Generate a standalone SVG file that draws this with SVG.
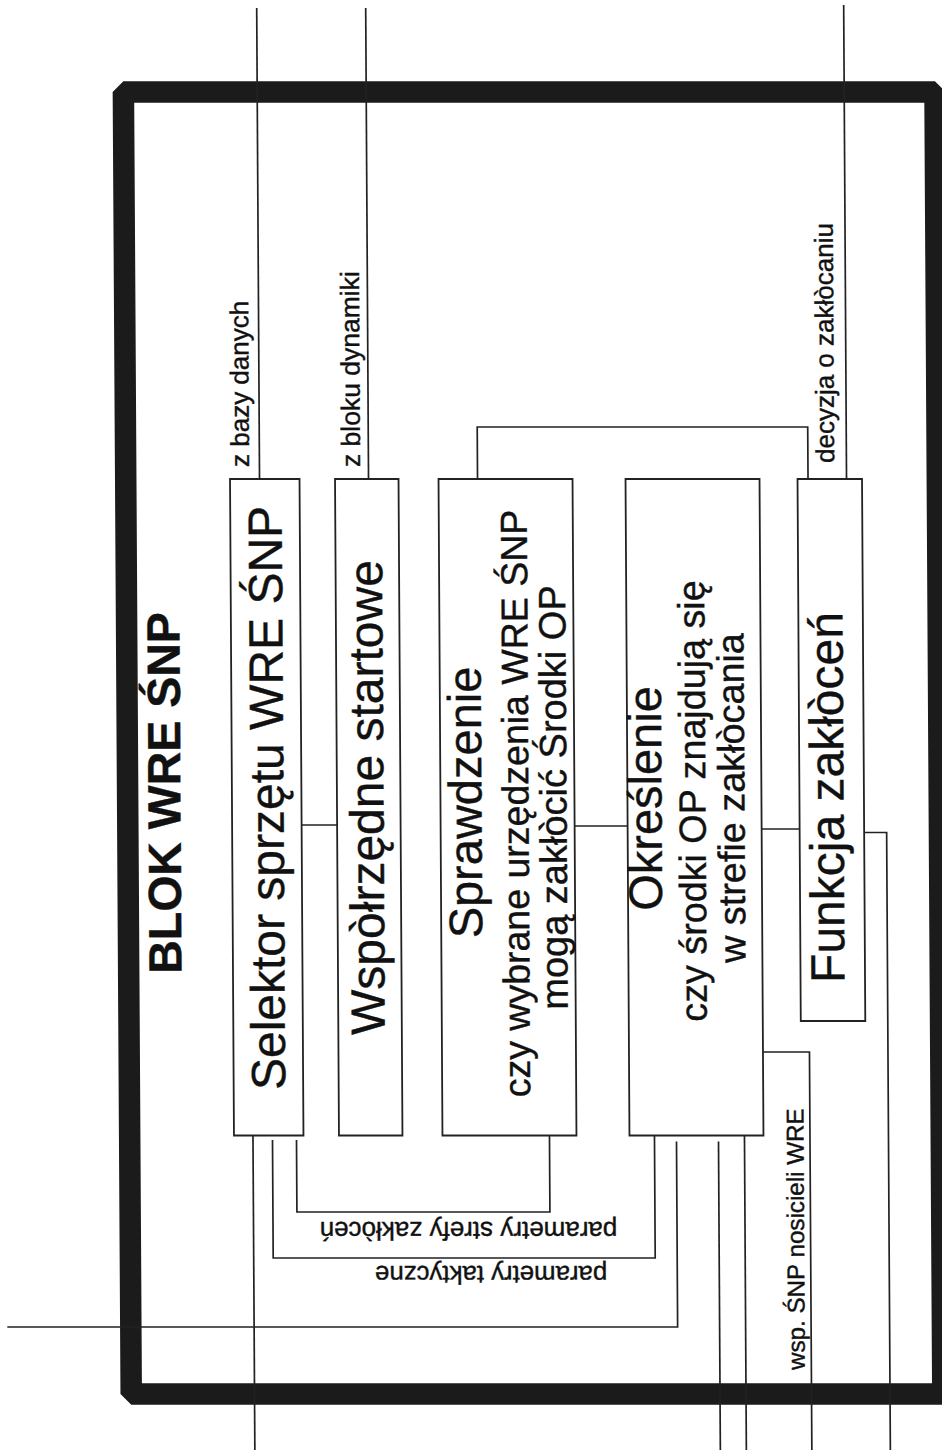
<svg xmlns="http://www.w3.org/2000/svg" width="942" height="1450" viewBox="0 0 942 1450">
<style>
.ln{fill:none;stroke:#222;stroke-width:1.7}
.bx{fill:#fff;stroke:#222;stroke-width:1.8}
.t{font-family:"Liberation Sans",Arial,sans-serif;fill:#111;stroke:#111;stroke-width:0.4}
.frm{fill:none;stroke:#1b1b1b;stroke-width:21.5;stroke-linejoin:bevel}
</style>
<rect width="942" height="1450" fill="#fff"/>
<g transform="translate(-4.35 0) skewX(0.344)">
<g id="frame"><path class="frm" d="M127.2 92 H938.8 V1394 H127.2 Z"/></g>
<g id="connectors">
<path class="ln" d="M261 8 V479"/>
<path class="ln" d="M370 8 V479"/>
<path class="ln" d="M848 5 V479"/>
<path class="ln" d="M479 479 V427 H809.5 V479"/>
<path class="ln" d="M301 825 H336.5"/>
<path class="ln" d="M574 826 H627"/>
<path class="ln" d="M761 829 H799"/>
<path class="ln" d="M863.5 832.5 H886 V1450"/>
<path class="ln" d="M761 1052 H807.5 V1450"/>
<path class="ln" d="M250.5 1135.5 V1450"/>
<path class="ln" d="M270 1140 V1258 H652 V1135.5"/>
<path class="ln" d="M294 1140 V1212 H547 V1135.5"/>
<path class="ln" d="M674 1141.5 V1327 H3.7"/>
<path class="ln" d="M716 1141.5 V1450"/>
<path class="ln" d="M742 1135.5 V1450"/>
<g id="connector-labels" class="t">
<text x="250.6" y="467" font-size="26" transform="rotate(-90 250.6 467)">z bazy danych</text>
<text x="361.6" y="467" font-size="26.5" transform="rotate(-90 361.6 467)">z bloku dynamiki</text>
<text x="835.7" y="463" font-size="26" transform="rotate(-90 835.7 463)">decyzja o zakłòcaniu</text>
<text x="801" y="1370" font-size="24.2" transform="rotate(-90 801 1370)">wsp. ŚNP nosicieli WRE</text>
<text x="465.5" y="1222" font-size="26" text-anchor="middle" transform="rotate(180 465.5 1222)">parametry strefy zakłòceń</text>
<text x="487.8" y="1266" font-size="25.8" text-anchor="middle" transform="rotate(180 487.8 1266)">parametry taktyczne</text>
</g>
</g>
<g id="title" class="t"><text x="180" y="793" font-size="46.5" font-weight="bold" text-anchor="middle" transform="rotate(-90 180 793)">BLOK WRE ŚNP</text></g>
<g id="box1">
<rect class="bx" x="231.5" y="479" width="69.5" height="656.5"/>
<text class="t" x="283" y="798" font-size="48" text-anchor="middle" transform="rotate(-90 283 798)">Selektor sprzętu WRE ŚNP</text>
</g>
<g id="box2">
<rect class="bx" x="336.5" y="479" width="63.5" height="656.5"/>
<text class="t" x="383" y="797.5" font-size="48" text-anchor="middle" transform="rotate(-90 383 797.5)">Wspòłrzędne startowe</text>
</g>
<g id="box3">
<rect class="bx" x="440" y="479" width="134" height="656.5"/>
<text class="t" x="481" y="802.5" font-size="47" text-anchor="middle" transform="rotate(-90 481 802.5)">Sprawdzenie</text>
<text class="t" x="528" y="803.5" font-size="37.5" text-anchor="middle" transform="rotate(-90 528 803.5)">czy wybrane urzędzenia WRE ŚNP</text>
<text class="t" x="566" y="797.5" font-size="38" text-anchor="middle" transform="rotate(-90 566 797.5)">mogą zakłòcić Środki OP</text>
</g>
<g id="box4">
<rect class="bx" x="627" y="479" width="134" height="656.5"/>
<text class="t" x="661" y="798.5" font-size="47" text-anchor="middle" transform="rotate(-90 661 798.5)">Określenie</text>
<text class="t" x="705" y="801" font-size="37.7" text-anchor="middle" transform="rotate(-90 705 801)">czy środki OP znajdują się</text>
<text class="t" x="744" y="798" font-size="37.8" text-anchor="middle" transform="rotate(-90 744 798)">w strefie zakłòcania</text>
</g>
<g id="box5">
<rect class="bx" x="799" y="479" width="64.5" height="542"/>
<text class="t" x="843" y="797.5" font-size="48" text-anchor="middle" transform="rotate(-90 843 797.5)">Funkcja zakłòceń</text>
</g>
</g>
</svg>
